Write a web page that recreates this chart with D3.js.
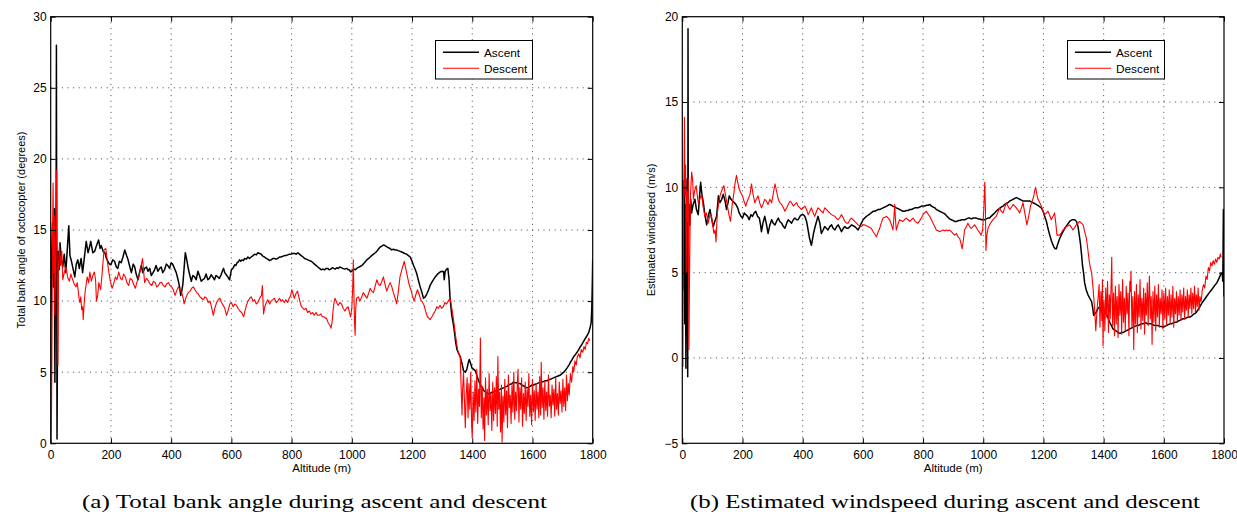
<!DOCTYPE html>
<html>
<head>
<meta charset="utf-8">
<script src="https://cdn.jsdelivr.net/npm/d3@7"></script>
<style>
  body { margin: 0; background: #fff; }
  svg { display: block; }
  text { fill: #000; }
</style>
</head>
<body>
<div id="chart"></div>
<script>
// altitude (m) vs value pairs
const bankAscent = [
  [0,6.5],[3,13],[6,15.5],[9,11],[12,16.5],[14,4.3],[16,14],[18,17],[19,28],[20,12],[21,0.3],[23,9],[25,13.5],[28,12.2],[31,14.1],[35,13],[40,12.4],[45,13.3],[50,12],[55,13.6],[60,15.3],[64,13.2],[69,12.8],[75,12.2],[80,11.7],[85,12.6],[90,12.9],[95,12.3],[101,13.0],[106,12.0],[112,13.1],[118,14.2],[124,13.4],[129,13.8],[133,14.2],[140,13.4],[146,13.5],[152,13.9],[159,14.3],[164,13.7],[168,13.9],[174,13.5],[180,13.4],[185,13.0],[190,12.8],[195,12.6],[200,12.55],[206,12.9],[212,12.8],[218,12.4],[223,12.3],[228,12.8],[234,12.7],[240,13.1],[246,13.6],[252,13.2],[257,12.9],[263,12.4],[268,12.0],[274,12.6],[279,12.4],[284,11.9],[290,11.5],[296,12.1],[301,12.5],[306,12.0],[312,12.3],[318,12.4],[323,12.1],[329,12.3],[334,11.8],[340,12.0],[345,12.2],[350,12.5],[356,12.1],[362,12.3],[367,12.4],[372,12.0],[378,12.2],[384,12.6],[389,12.5],[395,12.3],[400,12.7],[405,12.6],[411,12.3],[417,12.0],[423,11.5],[428,11.0],[432,10.4],[436,10.8],[439,11.2],[443,12.3],[447,13.4],[451,13.0],[456,12.4],[461,11.9],[467,11.4],[472,11.8],[478,11.7],[483,11.5],[489,12.1],[494,11.8],[500,11.4],[505,11.5],[511,11.6],[516,11.9],[522,11.5],[527,11.6],[533,11.85],[538,11.7],[544,11.5],[549,11.8],[555,11.7],[560,11.6],[566,11.85],[570,12.1],[574,12.3],[578,12.0],[583,11.85],[588,11.7],[594,11.5],[600,12.2],[605,12.3],[611,12.55],[615,12.5],[619,12.7],[623,12.75],[627,12.9],[631,12.8],[635,12.9],[640,12.85],[644,13.0],[650,12.95],[655,13.1],[660,13.0],[666,13.1],[672,13.2],[677,13.3],[683,13.25],[688,13.4],[694,13.35],[699,13.3],[705,13.15],[710,13.1],[716,13.0],[721,12.95],[727,12.85],[732,12.9],[738,13.0],[743,13.0],[749,12.95],[754,13.0],[760,13.1],[765,13.1],[771,13.15],[776,13.2],[782,13.2],[787,13.25],[793,13.3],[798,13.3],[804,13.35],[810,13.35],[815,13.3],[821,13.4],[826,13.3],[832,13.2],[838,13.1],[843,13.0],[849,12.95],[854,12.9],[860,12.85],[865,12.8],[871,12.7],[876,12.6],[882,12.5],[887,12.4],[893,12.3],[898,12.2],[904,12.25],[909,12.2],[915,12.3],[920,12.3],[925,12.2],[930,12.25],[935,12.35],[940,12.3],[945,12.25],[950,12.35],[955,12.3],[960,12.4],[965,12.35],[970,12.3],[976,12.25],[983,12.3],[988,12.2],[992,12.2],[996,12.05],[1000,12.1],[1004,12.2],[1008,12.25],[1012,12.2],[1016,12.3],[1020,12.35],[1025,12.4],[1029,12.45],[1033,12.5],[1038,12.6],[1042,12.7],[1046,12.8],[1050,12.9],[1056,13.0],[1061,13.1],[1066,13.2],[1072,13.3],[1078,13.4],[1083,13.5],[1088,13.65],[1094,13.8],[1098,13.85],[1102,13.9],[1106,13.95],[1110,13.9],[1114,13.85],[1118,13.8],[1122,13.75],[1127,13.7],[1132,13.6],[1138,13.65],[1143,13.6],[1149,13.6],[1154,13.55],[1160,13.5],[1166,13.45],[1171,13.4],[1176,13.35],[1182,13.3],[1188,13.2],[1194,13.1],[1200,12.8],[1205,12.5],[1211,12.2],[1216,11.9],[1222,11.4],[1227,11.0],[1233,10.6],[1238,10.2],[1244,10.3],[1249,10.5],[1255,10.8],[1260,11.1],[1268,11.4],[1277,11.7],[1285,11.9],[1293,12.05],[1300,12.1],[1305,12.05],[1307,11.5],[1310,12.1],[1315,12.25],[1319,12.3],[1323,11.5],[1326,10.3],[1329,9.6],[1332,9.0],[1337,8.4],[1341,7.8],[1345,7.1],[1349,6.6],[1355,6.3],[1360,6.1],[1366,5.6],[1371,5.1],[1377,5.0],[1382,5.2],[1386,5.6],[1390,5.9],[1395,5.6],[1399,5.3],[1405,5.2],[1410,5.1],[1415,4.8],[1421,4.4],[1425,4.2],[1430,4.0],[1434,3.9],[1438,3.7],[1442,3.65],[1446,3.6],[1450,3.5],[1454,3.5],[1458,3.45],[1462,3.55],[1466,3.6],[1471,3.6],[1476,3.7],[1482,3.7],[1487,3.75],[1493,3.8],[1498,3.85],[1504,3.9],[1509,3.95],[1515,4.0],[1520,4.1],[1526,4.15],[1531,4.2],[1537,4.3],[1542,4.25],[1548,4.25],[1553,4.2],[1559,4.2],[1564,4.1],[1570,4.05],[1576,3.95],[1582,3.9],[1587,3.95],[1593,4.0],[1598,4.1],[1604,4.1],[1609,4.15],[1615,4.2],[1620,4.25],[1626,4.3],[1631,4.3],[1637,4.35],[1642,4.4],[1648,4.4],[1653,4.45],[1659,4.5],[1664,4.55],[1670,4.6],[1675,4.65],[1681,4.7],[1687,4.75],[1693,4.8],[1698,4.9],[1704,5.0],[1710,5.15],[1715,5.3],[1721,5.5],[1726,5.7],[1732,5.9],[1737,6.1],[1743,6.25],[1748,6.4],[1754,6.6],[1759,6.8],[1764,6.95],[1768,7.1],[1772,7.25],[1776,7.4],[1782,7.6],[1787,7.8],[1792,8.2],[1795,8.5],[1797,9.5],[1799,11.5],[1800,12.9]
];

const bankDescent = [
  [0,8.5],[2,0.4],[4,6],[6,15],[8,18.3],[10,12],[12,16],[14,9],[17,14],[20,19.2],[22,10],[24,5.5],[26,12.5],[29,13.9],[33,12.5],[37,13.5],[40,11.5],[45,12.0],[51,12.4],[56,11.7],[62,11.4],[67,11.9],[73,11.5],[78,11.2],[84,11.0],[88,11.3],[91,10.8],[94,10.2],[97,9.9],[100,10.3],[103,9.4],[106,9.6],[108,8.7],[111,9.8],[114,10.6],[118,11.2],[121,11.7],[126,11.3],[130,12.05],[135,11.4],[140,11.8],[145,12.05],[149,11.5],[152,10.0],[156,10.4],[160,11.3],[166,10.8],[171,12.0],[177,13.6],[183,13.7],[188,12.8],[193,12.05],[198,11.4],[204,10.9],[210,11.3],[215,11.7],[220,11.5],[226,12.05],[232,11.6],[237,11.5],[242,11.9],[248,11.7],[253,11.3],[259,11.1],[264,11.6],[270,11.5],[275,11.2],[281,10.9],[286,11.3],[292,11.7],[298,12.2],[305,13.0],[309,12.0],[312,11.3],[318,11.6],[325,11.4],[330,11.2],[336,11.1],[341,11.4],[347,11.3],[352,11.0],[358,11.1],[363,11.3],[369,11.3],[374,11.1],[380,11.0],[385,11.2],[391,11.3],[396,11.1],[402,11.0],[407,10.8],[413,10.4],[418,10.7],[424,11.0],[430,10.8],[435,10.6],[440,10.2],[443,9.8],[447,10.1],[452,10.4],[457,10.6],[463,10.7],[468,10.9],[474,11.0],[479,10.8],[485,10.6],[490,10.5],[496,10.3],[501,10.2],[507,10.1],[512,10.3],[518,10.2],[523,9.9],[529,10.0],[534,9.6],[540,9.0],[545,9.5],[551,9.9],[556,10.1],[562,10.2],[567,9.9],[573,9.7],[578,9.5],[584,9.0],[590,9.4],[595,9.8],[600,9.9],[606,9.6],[612,9.8],[617,9.7],[622,9.5],[628,9.3],[634,9.2],[641,8.9],[645,9.3],[650,9.7],[655,10.0],[661,10.2],[666,10.3],[672,10.0],[677,10.1],[683,9.8],[688,9.9],[694,10.2],[700,10.4],[703,11.1],[705,10.0],[707,9.1],[711,9.6],[716,9.9],[721,10.1],[727,9.8],[732,10.0],[738,10.1],[743,10.2],[749,9.9],[754,10.0],[760,10.2],[765,10.0],[770,10.1],[776,9.9],[781,10.1],[787,9.9],[792,10.2],[797,10.4],[801,10.8],[805,10.5],[809,10.2],[814,10.5],[820,10.7],[825,10.2],[831,9.7],[837,9.5],[842,9.4],[848,9.5],[853,9.2],[859,9.3],[864,9.1],[870,9.2],[875,9.0],[881,9.2],[886,9.0],[891,9.0],[897,9.1],[902,8.9],[907,8.9],[912,8.8],[916,8.8],[921,8.5],[927,8.3],[931,8.1],[935,8.6],[938,9.4],[941,9.9],[944,10.2],[948,10.0],[952,9.8],[955,9.7],[960,9.9],[966,9.8],[971,9.5],[977,9.3],[982,9.5],[988,9.6],[992,9.2],[996,8.9],[1000,9.5],[1003,11.0],[1005,12.9],[1007,10.5],[1009,8.5],[1011,7.6],[1013,9.5],[1016,10.2],[1022,10.3],[1027,10.0],[1033,10.3],[1038,10.6],[1044,10.4],[1050,10.2],[1055,10.5],[1061,10.9],[1066,10.7],[1072,10.6],[1077,11.0],[1083,11.5],[1088,11.2],[1094,11.1],[1100,11.4],[1105,11.7],[1110,11.2],[1116,10.7],[1121,11.0],[1127,11.3],[1133,11.0],[1138,10.6],[1144,10.2],[1149,9.8],[1154,10.6],[1160,11.7],[1166,12.2],[1170,12.5],[1174,12.8],[1180,12.2],[1185,11.7],[1190,11.2],[1196,10.8],[1201,10.4],[1207,10.0],[1212,10.4],[1218,10.8],[1223,10.5],[1229,10.1],[1235,9.9],[1240,9.7],[1245,9.3],[1251,8.9],[1256,8.8],[1260,8.7],[1266,8.9],[1271,9.1],[1277,9.3],[1282,9.6],[1288,9.5],[1293,9.7],[1298,9.5],[1304,9.6],[1309,9.9],[1315,9.8],[1320,10.0],[1326,10.2],[1330,9.8],[1335,9.1],[1339,8.5],[1343,7.8],[1347,7.2],[1351,6.6],[1356,6.3],[1360,6.1],[1363,4.0],[1366,2.0],[1368,3.8],[1371,5.0],[1374,3.0],[1377,1.1],[1380,3.5],
  [1383,4.6],[1386,1.8],[1389,4.2],[1392,2.4],[1395,5.0],[1398,1.2],[1400,0.4],[1403,3.6],[1406,1.6],[1409,4.4],[1412,2.2],[1415,5.2],[1418,1.4],[1421,3.8],[1424,2.6],[1427,7.4],[1430,1.8],[1433,4.0],[1436,1.0],[1439,3.2],[1441,0.2],[1444,4.6],[1447,2.0],[1450,3.8],[1453,1.3],[1456,4.9],[1459,2.3],[1462,3.5],[1465,0.9],[1468,4.3],[1471,1.6],[1474,3.9],[1477,2.1],[1480,4.7],[1483,1.2],[1485,6.1],[1488,2.4],[1491,3.6],[1494,0.8],[1497,4.1],[1499,0.1],[1502,3.3],[1505,1.5],[1508,4.5],[1511,2.0],[1514,3.7],[1517,1.1],[1520,4.8],[1523,2.5],[1526,3.4],[1529,1.4],[1532,4.2],[1535,2.2],[1538,5.0],[1541,1.7],[1544,3.6],[1547,2.3],[1550,4.4],[1552,5.2],[1555,1.5],[1558,3.9],[1561,2.4],[1564,4.6],[1567,1.2],[1570,3.5],[1573,2.1],[1576,4.3],[1579,1.6],[1582,3.8],[1585,2.6],[1588,4.9],[1591,1.9],[1594,3.4],[1597,1.3],[1600,4.5],[1603,2.2],[1606,3.7],[1609,1.6],[1612,4.2],[1615,2.4],[1618,3.6],[1621,1.8],[1624,4.7],[1627,2.0],[1629,5.7],[1632,2.5],[1635,3.9],[1638,1.7],[1641,4.4],[1644,2.3],[1647,3.6],[1650,1.9],[1653,4.8],[1656,2.6],[1659,3.4],[1662,1.8],[1665,4.1],[1668,2.7],[1671,3.8],[1674,1.9],[1677,4.6],[1680,2.4],[1683,3.5],[1686,2.0],[1689,4.3],[1692,2.8],[1695,3.7],[1698,2.2],[1701,4.5],[1704,2.6],[1707,3.9],[1710,2.3],[1713,4.8],[1716,3.0],[1719,4.2],[1722,3.4],[1726,4.9],[1730,4.3],[1734,5.4],[1737,5.0],[1741,5.8],[1745,5.5],[1749,6.1],[1754,6.3],[1758,6.0],[1762,6.6],[1767,6.4],[1771,6.8],[1775,6.6],[1779,7.1],[1783,7.0],[1787,7.4],[1790,7.2]
];

const windAscent = [
  [0,10.4],[2,4.0],[4,8.5],[6,10.4],[8,2.0],[10,9.0],[12,-0.6],[14,8.0],[16,10.5],[18,-1.1],[19,19.3],[20,6.0],[22,9.0],[25,7.8],[28,9.3],[31,8.5],[36,9.0],[42,9.3],[47,8.7],[53,8.4],[57,9.4],[61,10.3],[65,9.6],[70,9.1],[75,8.4],[81,7.8],[86,8.3],[92,8.7],[97,8.2],[103,7.7],[108,8.0],[114,8.3],[120,9.5],[125,9.1],[131,9.3],[136,9.6],[142,9.2],[147,8.7],[152,9.1],[156,9.5],[162,9.3],[167,9.2],[173,9.1],[178,9.0],[184,8.8],[189,8.5],[195,8.3],[200,8.2],[206,8.5],[211,8.4],[217,8.3],[222,8.1],[228,8.4],[233,8.3],[239,8.5],[244,8.6],[250,8.3],[256,8.2],[260,7.8],[263,7.4],[268,7.9],[274,8.3],[280,7.8],[285,7.3],[291,7.8],[297,8.1],[302,7.9],[308,7.8],[313,8.0],[319,8.2],[324,8.0],[330,7.9],[336,7.7],[341,7.6],[347,7.9],[352,8.1],[358,8.0],[363,7.9],[369,8.1],[374,8.2],[380,8.1],[385,8.1],[391,8.3],[396,8.4],[402,8.4],[407,8.3],[413,8.0],[418,7.5],[423,7.0],[426,6.8],[429,6.6],[433,7.0],[436,7.3],[440,7.6],[446,8.0],[451,8.3],[457,7.9],[462,7.3],[468,7.5],[473,7.7],[479,7.6],[484,7.5],[490,7.7],[496,7.8],[501,7.6],[507,7.5],[513,7.7],[518,7.8],[524,7.6],[529,7.4],[535,7.6],[540,7.7],[546,7.6],[551,7.6],[557,7.7],[562,7.8],[568,7.75],[573,7.7],[579,7.6],[584,7.5],[590,7.7],[595,7.9],[601,8.1],[606,8.2],[612,8.3],[616,8.35],[620,8.4],[624,8.45],[627,8.5],[631,8.55],[634,8.6],[640,8.6],[645,8.65],[651,8.7],[656,8.7],[662,8.75],[667,8.8],[673,8.85],[679,8.9],[684,8.95],[689,9.0],[695,8.95],[700,8.9],[706,8.85],[711,8.8],[717,8.75],[722,8.7],[728,8.65],[733,8.6],[739,8.6],[745,8.65],[751,8.65],[756,8.7],[762,8.7],[767,8.75],[773,8.8],[778,8.8],[784,8.8],[789,8.85],[795,8.9],[800,8.9],[806,8.9],[811,8.95],[817,8.95],[822,9.0],[828,8.9],[833,8.85],[839,8.8],[844,8.7],[850,8.65],[855,8.6],[861,8.55],[866,8.5],[872,8.45],[877,8.35],[883,8.25],[888,8.15],[894,8.1],[900,8.05],[906,8.0],[911,8.0],[917,8.05],[922,8.05],[928,8.1],[933,8.1],[939,8.1],[944,8.15],[950,8.2],[955,8.2],[961,8.15],[966,8.2],[972,8.2],[977,8.2],[983,8.15],[988,8.15],[994,8.1],[999,8.1],[1004,8.1],[1010,8.15],[1016,8.2],[1021,8.2],[1026,8.3],[1032,8.4],[1038,8.5],[1043,8.6],[1049,8.7],[1054,8.75],[1060,8.85],[1066,8.9],[1071,9.0],[1077,9.05],[1082,9.1],[1088,9.2],[1094,9.25],[1099,9.3],[1105,9.35],[1110,9.4],[1116,9.35],[1121,9.3],[1127,9.25],[1132,9.2],[1138,9.2],[1143,9.2],[1149,9.2],[1154,9.2],[1160,9.15],[1165,9.1],[1171,9.05],[1176,9.0],[1185,8.9],[1193,8.8],[1199,8.6],[1204,8.3],[1210,8.0],[1215,7.6],[1221,7.2],[1226,6.9],[1230,6.7],[1235,6.5],[1239,6.4],[1243,6.4],[1248,6.7],[1254,7.0],[1262,7.3],[1271,7.6],[1279,7.8],[1287,8.0],[1295,8.1],[1304,8.1],[1310,8.0],[1315,7.7],[1319,7.2],[1323,6.7],[1327,6.0],[1330,5.4],[1334,4.9],[1337,4.4],[1342,4.0],[1348,3.7],[1354,3.5],[1360,3.3],[1364,2.9],[1367,2.5],[1371,2.6],[1376,2.7],[1381,2.9],[1387,3.0],[1392,2.9],[1398,2.8],[1404,2.7],[1409,2.6],[1415,2.35],[1420,2.1],[1426,1.9],[1431,1.7],[1436,1.65],[1440,1.6],[1444,1.55],[1448,1.5],[1452,1.45],[1456,1.45],[1460,1.5],[1465,1.5],[1470,1.55],[1476,1.6],[1481,1.65],[1487,1.7],[1492,1.75],[1498,1.8],[1503,1.85],[1509,1.9],[1514,1.9],[1520,1.95],[1525,2.0],[1531,2.0],[1536,2.05],[1542,2.05],[1547,2.0],[1553,2.0],[1558,2.0],[1564,1.95],[1570,1.9],[1576,1.9],[1581,1.9],[1587,1.85],[1592,1.85],[1598,1.8],[1603,1.85],[1609,1.9],[1614,1.95],[1620,2.0],[1625,2.0],[1631,2.05],[1636,2.1],[1642,2.1],[1647,2.15],[1653,2.2],[1658,2.25],[1664,2.3],[1670,2.3],[1675,2.35],[1681,2.4],[1687,2.4],[1692,2.45],[1698,2.55],[1703,2.6],[1709,2.7],[1718,2.95],[1726,3.2],[1734,3.4],[1742,3.6],[1750,3.8],[1759,4.0],[1767,4.2],[1776,4.4],[1783,4.65],[1789,4.9],[1794,5.0],[1796,4.5],[1797,6.5],[1798,8.7],[1799,5.5],[1800,3.6]
];

const windDescent = [
  [0,4.0],[2,-0.5],[4,9.0],[6,11.5],[7,14.1],[9,9.5],[11,11.3],[13,5.0],[15,9.8],[17,8.0],[20,10.5],[22,0.5],[24,4.8],[27,9.5],[31,10.9],[34,10.5],[37,9.3],[41,9.8],[46,10.1],[50,9.5],[53,9.1],[58,9.3],[64,9.6],[69,8.9],[75,8.3],[80,8.5],[86,7.9],[92,8.4],[97,8.3],[101,7.8],[105,7.3],[109,7.5],[112,6.8],[116,8.4],[120,9.0],[124,9.4],[127,9.6],[133,9.9],[138,10.1],[143,9.6],[149,9.0],[155,8.4],[160,8.0],[166,9.0],[171,9.6],[175,10.2],[180,10.7],[184,10.3],[189,9.9],[194,9.7],[200,9.5],[205,9.2],[211,8.9],[216,9.2],[221,9.4],[225,9.6],[230,10.2],[235,9.6],[241,9.1],[246,9.3],[252,9.5],[257,9.1],[263,8.8],[268,9.0],[274,9.3],[279,9.2],[285,9.0],[291,9.3],[297,9.1],[302,9.6],[308,10.2],[313,9.8],[319,9.3],[324,9.1],[330,9.0],[336,8.8],[341,8.6],[347,8.8],[352,9.0],[358,9.2],[363,9.1],[369,8.9],[374,9.0],[380,9.1],[385,8.9],[391,8.8],[396,8.7],[402,8.8],[407,8.9],[413,8.7],[418,8.4],[424,8.6],[429,8.8],[435,8.5],[440,8.3],[446,8.6],[451,8.8],[457,8.7],[462,8.6],[468,8.5],[473,8.8],[479,8.7],[484,8.6],[490,8.5],[496,8.4],[501,8.35],[507,8.3],[512,8.2],[518,8.1],[524,8.25],[529,8.4],[535,8.2],[540,8.0],[546,7.9],[551,7.9],[557,8.1],[562,8.2],[568,8.1],[573,8.0],[579,7.9],[584,7.8],[590,7.75],[595,7.7],[601,7.8],[606,7.8],[612,7.75],[617,7.7],[622,7.65],[628,7.6],[634,7.4],[640,7.25],[645,7.1],[650,7.35],[656,7.6],[661,7.9],[667,8.2],[673,8.25],[679,8.3],[684,8.2],[689,8.1],[695,7.8],[700,7.5],[703,8.2],[706,9.0],[708,8.2],[711,7.5],[716,7.8],[722,8.1],[727,8.05],[733,8.0],[738,8.1],[744,8.2],[750,8.1],[756,8.0],[761,8.1],[767,8.2],[772,8.05],[778,7.95],[783,7.9],[789,8.05],[794,8.2],[800,8.4],[805,8.5],[811,8.6],[816,8.45],[822,8.3],[828,8.1],[833,7.9],[839,7.7],[844,7.5],[850,7.45],[855,7.4],[861,7.45],[866,7.5],[872,7.45],[877,7.5],[883,7.45],[888,7.5],[894,7.4],[899,7.3],[905,7.2],[911,7.3],[916,7.1],[922,7.0],[926,6.7],[930,6.4],[934,6.9],[938,7.5],[944,7.7],[949,7.9],[955,7.7],[960,7.6],[966,7.7],[971,7.8],[977,7.65],[982,7.5],[988,7.35],[993,7.2],[998,7.5],[1002,8.8],[1005,10.3],[1007,9.0],[1009,6.3],[1012,7.2],[1016,7.6],[1021,7.8],[1026,7.95],[1032,8.1],[1037,8.2],[1043,8.3],[1048,8.5],[1054,8.8],[1060,8.6],[1066,8.5],[1071,8.8],[1077,9.1],[1082,8.9],[1088,8.7],[1094,8.85],[1099,9.0],[1105,8.9],[1110,8.8],[1116,8.65],[1121,8.5],[1127,8.8],[1132,9.1],[1138,8.5],[1145,7.8],[1151,8.3],[1157,8.9],[1163,9.2],[1168,9.5],[1171,9.8],[1174,10.0],[1178,9.6],[1182,9.3],[1188,9.1],[1193,8.9],[1199,8.6],[1204,8.4],[1210,8.5],[1215,8.6],[1221,8.35],[1226,8.1],[1232,8.3],[1237,8.5],[1241,7.9],[1245,7.2],[1250,7.2],[1254,7.2],[1260,7.35],[1265,7.5],[1271,7.6],[1276,7.7],[1282,7.75],[1287,7.8],[1293,7.65],[1298,7.5],[1304,7.65],[1309,7.8],[1315,7.9],[1320,8.0],[1326,7.9],[1332,7.8],[1337,7.4],[1343,7.0],[1348,6.3],[1352,5.7],[1356,5.3],[1360,5.0],[1364,4.3],[1367,3.6],[1371,2.6],[1374,1.6],[1378,2.8],[1382,3.6],
  [1385,4.3],[1387,2.6],[1388,1.8],[1390,3.2],[1391,3.9],[1393,2.9],[1394,2.2],[1396,4.6],[1398,0.7],[1400,2.8],[1401,3.4],[1403,2.5],[1404,1.6],[1406,3.0],[1407,4.1],[1409,3.3],[1410,2.4],[1412,3.6],[1413,4.5],[1415,2.7],[1416,1.5],[1418,2.9],[1419,3.7],[1421,3.1],[1422,2.3],[1424,3.8],[1425,4.4],[1427,5.9],[1429,3.0],[1430,1.9],[1432,3.1],[1433,3.8],[1435,2.4],[1436,1.3],[1438,3.3],[1439,4.2],[1441,3.0],[1442,2.0],[1444,3.2],[1445,3.6],[1447,2.2],[1448,1.2],[1450,3.4],[1451,4.3],[1453,3.3],[1454,2.5],[1456,3.4],[1457,3.9],[1459,2.5],[1460,1.4],[1462,3.6],[1463,4.6],[1465,3.0],[1466,2.1],[1468,3.0],[1469,3.5],[1471,2.4],[1472,1.6],[1474,3.3],[1475,4.2],[1477,3.3],[1478,2.6],[1480,3.2],[1481,3.8],[1483,2.3],[1484,1.3],[1486,3.5],[1487,4.5],[1489,3.9],[1491,5.1],[1493,2.9],[1494,1.8],[1496,3.0],[1497,3.6],[1499,1.9],[1500,0.5],[1502,2.9],[1503,3.9],[1505,2.8],[1506,2.0],[1508,3.4],[1509,4.3],[1511,2.7],[1512,1.5],[1514,2.9],[1515,3.7],[1517,3.0],[1518,2.4],[1520,3.7],[1521,4.6],[1523,2.9],[1524,1.7],[1526,2.9],[1527,3.5],[1529,2.8],[1530,2.2],[1532,3.3],[1533,4.1],[1535,2.6],[1536,1.4],[1538,3.0],[1539,3.8],[1541,3.0],[1542,2.5],[1544,3.6],[1545,4.4],[1547,3.0],[1548,1.9],[1550,3.6],[1552,4.8],[1554,3.3],[1555,2.3],[1557,3.1],[1558,3.6],[1560,2.0],[1561,0.8],[1563,2.9],[1564,3.9],[1566,2.9],[1567,2.1],[1569,3.4],[1570,4.2],[1572,2.8],[1573,1.6],[1575,3.0],[1576,3.7],[1578,3.0],[1579,2.4],[1581,3.5],[1582,4.3],[1584,2.9],[1585,1.8],[1587,2.9],[1588,3.5],[1590,3.0],[1591,2.6],[1593,3.4],[1594,4.0],[1596,2.7],[1597,1.7],[1599,3.0],[1600,3.8],[1602,3.0],[1603,2.3],[1605,3.4],[1606,4.1],[1608,2.9],[1609,1.9],[1611,3.0],[1612,3.6],[1614,3.0],[1615,2.5],[1617,3.4],[1618,4.0],[1620,2.9],[1621,2.0],[1623,3.0],[1624,3.7],[1626,3.1],[1627,2.4],[1629,3.4],[1630,4.2],[1632,2.8],[1633,1.8],[1635,2.9],[1636,3.5],[1638,3.1],[1639,2.6],[1641,3.3],[1642,3.9],[1644,2.9],[1645,2.1],[1647,3.0],[1648,3.6],[1650,3.1],[1651,2.5],[1653,3.4],[1654,4.0],[1656,3.0],[1657,2.2],[1659,3.1],[1660,3.7],[1662,3.3],[1663,2.7],[1665,3.5],[1666,4.1],[1668,3.1],[1669,2.3],[1671,3.0],[1672,3.6],[1674,3.2],[1675,2.8],[1677,3.5],[1678,4.0],[1680,3.1],[1681,2.4],[1683,3.1],[1684,3.7],[1686,3.4],[1687,2.9],[1689,3.6],[1690,4.1],[1692,3.2],[1693,2.6],[1695,3.3],[1696,3.8],[1698,3.4],[1699,2.9],[1701,3.6],[1702,4.2],[1704,3.4],[1705,2.7],[1707,3.3],[1708,3.7],[1710,3.4],[1711,3.0],[1713,3.6],[1714,4.1],[1716,3.3],[1717,2.8],[1719,3.2],[1720,3.6],[1724,3.3],[1728,4.0],[1732,4.3],[1736,4.1],[1740,4.8],[1744,4.6],[1748,5.3],[1752,5.1],[1756,5.6],[1760,5.4],[1764,5.7],[1768,5.5],[1772,5.8],[1776,5.6],[1780,5.9],[1784,5.8],[1788,6.1],[1790,5.9]
];

const altitudeTicks = [0, 200, 400, 600, 800, 1000, 1200, 1400, 1600, 1800];
const bankTicks = [0, 5, 10, 15, 20, 25, 30];
const windTicks = [-5, 0, 5, 10, 15, 20];
const seriesNames = ['Ascent', 'Descent'];

const width = 1237;
const height = 514;
const plotTop = 16.7;
const plotBottom = 443.3;
const sans = '"Liberation Sans", Arial, Helvetica, sans-serif';

const svg = d3.select('#chart')
  .append('svg')
  .attr('width', width)
  .attr('height', height)
  .attr('viewBox', [0, 0, width, height])
  .style('font-family', sans);

const panels = [
  {
    id: 'bank', left: 50.7, right: 592.7,
    yDomain: [0, 30], yTicks: bankTicks,
    yLabel: 'Total bank angle of octocopter (degrees)', yLabelX: 25,
    caption: '(a) Total bank angle during ascent and descent', capX: 82, capW: 465,
    ascent: bankAscent, descent: bankDescent, legendX: 435
  },
  {
    id: 'wind', left: 682.3, right: 1224,
    yDomain: [-5, 20], yTicks: windTicks,
    yLabel: 'Estimated windspeed (m/s)', yLabelX: 655,
    caption: '(b) Estimated windspeed during ascent and descent', capX: 690, capW: 510,
    ascent: windAscent, descent: windDescent, legendX: 1067
  }
];

function drawPanel(p) {
  const x = d3.scaleLinear().domain([0, 1800]).range([p.left, p.right]);
  const y = d3.scaleLinear().domain(p.yDomain).range([plotBottom, plotTop]);
  const g = svg.append('g');

  // dotted grid
  g.append('g')
    .selectAll('line')
    .data(altitudeTicks.slice(1, -1))
    .join('line')
      .attr('x1', d => x(d)).attr('x2', d => x(d))
      .attr('y1', plotTop).attr('y2', plotBottom)
      .attr('stroke', '#444').attr('stroke-width', 1)
      .attr('stroke-dasharray', '1,4.6');
  g.append('g')
    .selectAll('line')
    .data(p.yTicks.slice(1, -1))
    .join('line')
      .attr('x1', p.left).attr('x2', p.right)
      .attr('y1', d => y(d)).attr('y2', d => y(d))
      .attr('stroke', '#444').attr('stroke-width', 1)
      .attr('stroke-dasharray', '1,4.6');

  g.append('clipPath').attr('id', 'clip-' + p.id)
    .append('rect')
      .attr('x', p.left).attr('y', plotTop)
      .attr('width', p.right - p.left).attr('height', plotBottom - plotTop);

  const line = d3.line().x(d => x(d[0])).y(d => y(d[1]));

  g.append('path')
    .datum(p.ascent)
    .attr('clip-path', `url(#clip-${p.id})`)
    .attr('fill', 'none').attr('stroke', '#000')
    .attr('stroke-width', 1.5).attr('stroke-linejoin', 'round')
    .attr('d', line);

  g.append('path')
    .datum(p.descent)
    .attr('clip-path', `url(#clip-${p.id})`)
    .attr('fill', 'none').attr('stroke', '#ff0000')
    .attr('stroke-width', 1.1).attr('stroke-linejoin', 'round')
    .attr('d', line);

  // axes with inward ticks on all four sides
  const fmt = d3.format('d');
  const styleAxis = a => {
    a.select('.domain').remove();
    a.attr('font-family', null);
    a.selectAll('.tick line').attr('stroke', '#000');
    a.selectAll('text').attr('font-size', 12);
  };
  g.append('g')
    .attr('transform', `translate(0,${plotBottom})`)
    .call(d3.axisBottom(x).tickValues(altitudeTicks).tickFormat(fmt).tickSizeInner(-5).tickSizeOuter(0).tickPadding(7))
    .call(styleAxis);
  g.append('g')
    .attr('transform', `translate(0,${plotTop})`)
    .call(d3.axisTop(x).tickValues(altitudeTicks).tickSizeInner(-5).tickSizeOuter(0).tickFormat(''))
    .call(styleAxis);
  g.append('g')
    .attr('transform', `translate(${p.left},0)`)
    .call(d3.axisLeft(y).tickValues(p.yTicks).tickFormat(fmt).tickSizeInner(-5).tickSizeOuter(0).tickPadding(4))
    .call(styleAxis);
  g.append('g')
    .attr('transform', `translate(${p.right},0)`)
    .call(d3.axisRight(y).tickValues(p.yTicks).tickSizeInner(-5).tickSizeOuter(0).tickFormat(''))
    .call(styleAxis);

  g.append('rect')
    .attr('x', p.left).attr('y', plotTop)
    .attr('width', p.right - p.left).attr('height', plotBottom - plotTop)
    .attr('fill', 'none').attr('stroke', '#000').attr('stroke-width', 1.2);

  // axis titles
  g.append('text')
    .attr('x', (p.left + p.right) / 2).attr('y', 472)
    .attr('text-anchor', 'middle').attr('font-size', 11.5)
    .text('Altitude (m)');
  g.append('text')
    .attr('transform', `translate(${p.yLabelX},${(plotTop + plotBottom) / 2}) rotate(-90)`)
    .attr('text-anchor', 'middle').attr('font-size', 11)
    .text(p.yLabel);

  // legend
  const lg = g.append('g').attr('transform', `translate(${p.legendX},40)`);
  lg.append('rect')
    .attr('x', 0.5).attr('y', 0.5).attr('width', 97).attr('height', 38.5)
    .attr('fill', '#fff').attr('stroke', '#000').attr('stroke-width', 1);
  lg.selectAll('g.item')
    .data(seriesNames)
    .join('g')
      .attr('class', 'item')
      .attr('transform', (d, i) => `translate(0,${12.3 + i * 16})`)
      .each(function (d, i) {
        const it = d3.select(this);
        it.append('line')
          .attr('x1', 8).attr('x2', 44)
          .attr('stroke', i === 0 ? '#000' : '#ff0000')
          .attr('stroke-width', i === 0 ? 1.4 : 1.1);
        it.append('text')
          .attr('x', 49).attr('y', 4.3)
          .attr('font-size', 11.8)
          .text(d);
      });

  // caption under the panel
  svg.append('text')
    .attr('x', p.capX).attr('y', 508)
    .style('font-family', '"Liberation Serif", "DejaVu Serif", serif')
    .attr('font-size', 19.5)
    .attr('textLength', p.capW).attr('lengthAdjust', 'spacingAndGlyphs')
    .text(p.caption);
}

panels.forEach(drawPanel);
</script>
</body>
</html>
